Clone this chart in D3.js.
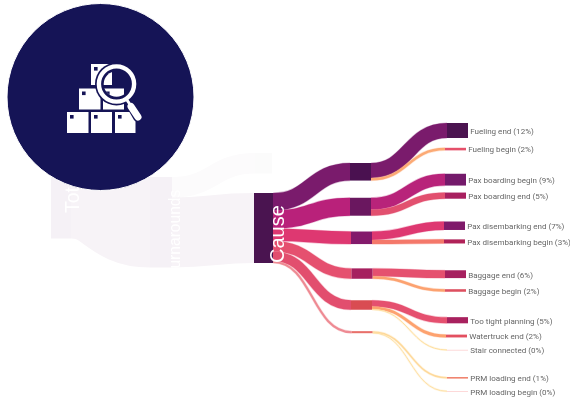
<!DOCTYPE html>
<html><head><meta charset="utf-8">
<style>html,body{margin:0;padding:0;background:#fff;overflow:hidden}svg{display:block;filter:blur(.35px)}</style>
<script src="https://cdn.jsdelivr.net/npm/d3@7"></script></head>
<body><svg id="c" width="570" height="404"></svg>
<script>
// ---- data ----
const leafNames=["Fueling end","Fueling begin","Pax boarding begin","Pax boarding end","Pax disembarking end","Pax disembarking begin","Baggage end","Baggage begin","Too tight planning","Watertruck end","Stair connected","PRM loading end","PRM loading begin"];
const leafValues=[11.7,2,9.2,4.8,6.6,3.2,6.1,2,4.8,2.2,0.4,1.2,0.4];
const leafGroup=[0,0,1,1,2,2,3,3,4,4,4,5,5];
const otherValue=16;
const rootNames=["Total","Turnarounds","Cause"];

// ---- style ----
const midFill=["#4a1150","#6a175f","#831a6b","#a6205f","#d94c52","#e8706a"];
const midLink=["#7a1b6c","#b9217a","#de3871","#e5506f","#e24e6e","#ee8a93"];
const leafFill=["#4b1450","#e5506a","#741a6b","#a8205f","#7f1a6a","#b02258","#a6205f","#dd5060","#a8215e","#e35060","#fdd9d9","#f0806a","#fdd9d9"];
const leafLink=["#7a1b6c","#fcaa75","#b8237a","#e2506f","#de3871","#f4786a","#e5506f","#fca270","#e5506f","#fda26f","#fedf9f","#fed99a","#fee0a5"];

// ---- layout ----
const causeValue=d3.sum(leafValues);
const h=d3.scaleLinear().domain([0,causeValue]).range([0,70]);
const nodeW=21;
const leafTop0=123, leafGaps=[9.8,23.4,7,22.8,9.4,26.8,11.1,25.4,11.3,12.3,26.8,12.4];
const leafX=[447,445,445,445,444,444,445,445,447,446,447,447,447];
const midTop0=163, midGaps=[17.2,15.8,24.3,21.5,21.4];
const midX=[350,350,351,351.5,351,351.5];
const midValues=d3.rollups(leafValues.map((v,i)=>[leafGroup[i],v]),a=>d3.sum(a,d=>d[1]),d=>d[0]).map(d=>d[1]);
function stack(vals,t0,gaps){let y=t0;return vals.map((v,i)=>{const t=y;y+=h(v)+(gaps[i]||0);return t;});}
const leafTop=stack(leafValues,leafTop0,leafGaps), midTop=stack(midValues,midTop0,midGaps);

const svg=d3.select("#c");
const link=d3.linkHorizontal();
function band(g,x0,y0,x1,y1,val,color,halo=.3){
  const w=Math.max(h(val),1), p=link({source:[x0,y0],target:[x1,y1]});
  if(halo>0) g.append("path").attr("d",p).attr("fill","none").attr("stroke",color).attr("stroke-opacity",halo).attr("stroke-width",w+1.2);
  g.append("path").attr("d",p).attr("fill","none").attr("stroke",color).attr("stroke-width",w);
}
const gRoot=svg.append("g"), gLink=svg.append("g"), gNode=svg.append("g"), gText=svg.append("g");

// faded root part
const total=causeValue+otherValue, causeTop=193, causeX=254, causeW=19;
const turnTop=177, totalTop=148, otherTop=153;
band(gRoot,71,totalTop+h(total)/2,150,turnTop+h(total)/2,total,"#f7f3f7",0);
band(gRoot,172,turnTop+h(otherValue)/2,255,otherTop+h(otherValue)/2,otherValue,"#fcfbfc",0);
band(gRoot,172,turnTop+h(otherValue)+h(causeValue)/2,causeX,causeTop+h(causeValue)/2,causeValue,"#f7f3f7",0);
gRoot.append("rect").attr("x",51).attr("y",totalTop).attr("width",20).attr("height",h(total)).attr("fill","#f5f1f6");
gRoot.append("rect").attr("x",150).attr("y",turnTop).attr("width",22).attr("height",h(total)).attr("fill","#f5f1f6");
gRoot.append("rect").attr("x",255).attr("y",otherTop).attr("width",17).attr("height",h(otherValue)).attr("fill","#fbfbfb");

// cause -> mid
let cy=causeTop;
midValues.forEach((v,i)=>{
  band(gLink,causeX+causeW,cy+h(v)/2,midX[i],midTop[i]+h(v)/2,v,midLink[i]);
  cy+=h(v);
});
// mid -> leaf
const offs=midValues.map(()=>0);
leafValues.forEach((v,i)=>{
  const m=leafGroup[i];
  band(gLink,midX[m]+nodeW,midTop[m]+offs[m]+h(v)/2,leafX[i],leafTop[i]+h(v)/2,v,leafLink[i]);
  offs[m]+=h(v);
});
// nodes
gNode.append("rect").attr("x",causeX).attr("y",causeTop).attr("width",causeW).attr("height",h(causeValue)).attr("fill","#4a1450");
gNode.selectAll(".m").data(midValues).join("rect").attr("x",(d,i)=>midX[i]).attr("y",(d,i)=>midTop[i]).attr("width",nodeW).attr("height",d=>h(d)).attr("fill",(d,i)=>midFill[i]);
gNode.selectAll(".l").data(leafValues).join("rect").attr("x",(d,i)=>leafX[i]).attr("y",(d,i)=>leafTop[i]).attr("width",nodeW).attr("height",d=>Math.max(h(d),1)).attr("fill",(d,i)=>leafFill[i]);
// labels
gText.selectAll(".t").data(leafNames).join("text")
  .attr("x",(d,i)=>leafX[i]+nodeW+2.2).attr("y",(d,i)=>leafTop[i]+h(leafValues[i])/2+0.5)
  .attr("dy","0.35em").attr("font-family","Roboto, Liberation Sans, sans-serif").attr("font-size",8.05).attr("fill","#666")
  .text((d,i)=>`${d} (${Math.round(leafValues[i])}%)`);
// rotated titles
const rootAt=[[79,213,19.5],[180,277.5,15.6],[284,263,20]];
rootNames.forEach((n,i)=>{
  gText.append("text").attr("transform",`translate(${rootAt[i][0]},${rootAt[i][1]}) rotate(-90)`)
    .attr("font-family","Liberation Sans, Arial, sans-serif").attr("font-size",rootAt[i][2]).attr("fill","#fff").text(n);
});

// badge with icon
const ic=svg.append("g");
ic.append("circle").attr("cx",100.5).attr("cy",97).attr("r",93.5).attr("fill","#151456").attr("stroke","#fff").attr("stroke-width",1);
const boxes=[[67,112,21.5,21],[91,112,21,21],[115,112,20.5,21],[79,88.5,21.5,21],[103,88.5,21,21],[91,64,21,21]];
const defs=svg.append("defs");
defs.append("clipPath").attr("id","lens").append("circle").attr("cx",116.5).attr("cy",84).attr("r",12.8);
function drawBoxes(g){
  boxes.forEach(b=>{
    g.append("rect").attr("x",b[0]).attr("y",b[1]).attr("width",b[2]).attr("height",b[3]).attr("fill","#fff");
    g.append("rect").attr("x",b[0]+3).attr("y",b[1]+3).attr("width",3.6).attr("height",3.6).attr("fill","#151456");
  });
}
drawBoxes(ic);
ic.append("circle").attr("cx",116.5).attr("cy",84).attr("r",21.5).attr("fill","#151456");
ic.append("line").attr("x1",130).attr("y1",103).attr("x2",138).attr("y2",117).attr("stroke","#151456").attr("stroke-width",10).attr("stroke-linecap","round");
drawBoxes(ic.append("g").attr("clip-path","url(#lens)"));
ic.append("circle").attr("cx",116.5).attr("cy",84).attr("r",17.6).attr("fill","none").attr("stroke","#fff").attr("stroke-width",4.4);
ic.append("line").attr("x1",127).attr("y1",100).attr("x2",131).attr("y2",106).attr("stroke","#fff").attr("stroke-width",3);
ic.append("line").attr("x1",131).attr("y1",106.5).attr("x2",138).attr("y2",117).attr("stroke","#fff").attr("stroke-width",7).attr("stroke-linecap","round");
</script></body></html>
